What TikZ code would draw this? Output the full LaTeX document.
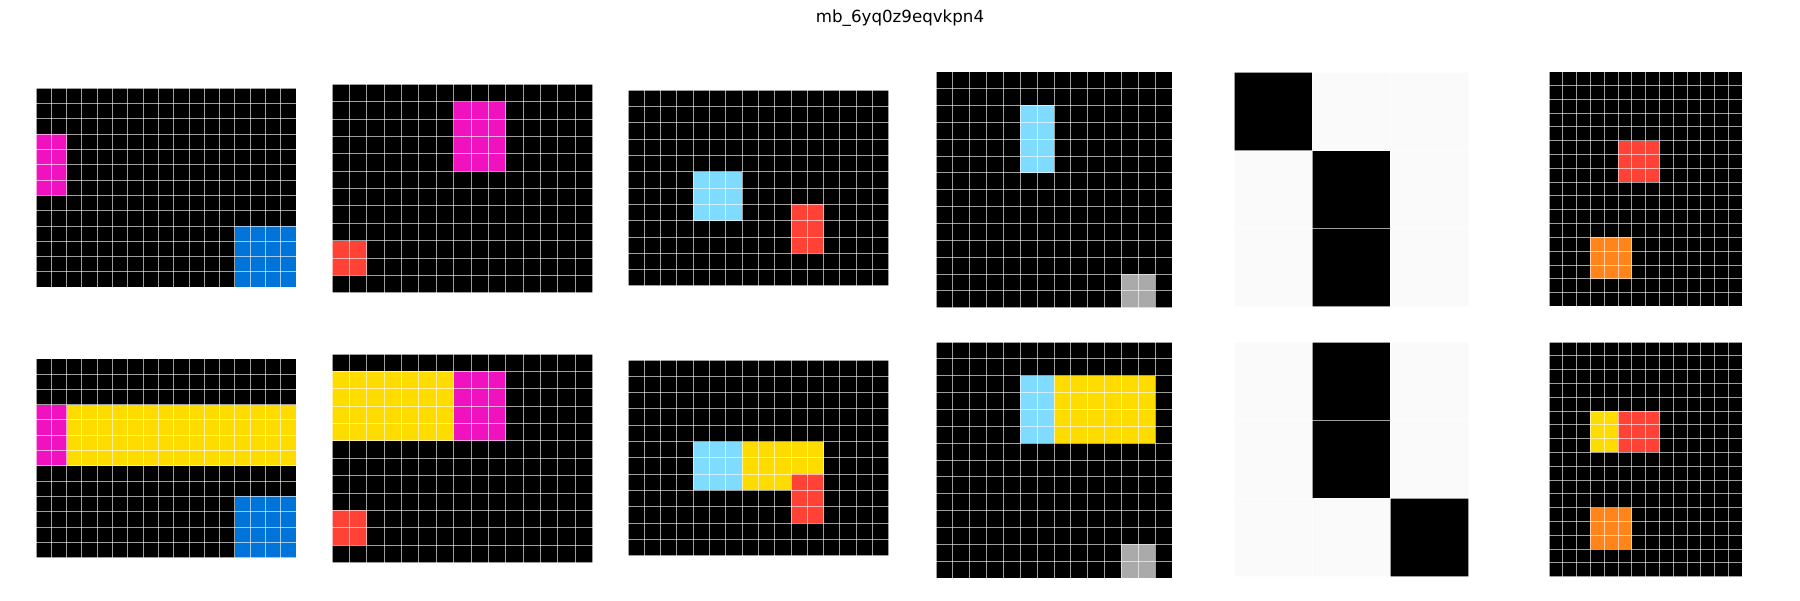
\documentclass[tikz,border=0pt]{standalone}
\usepackage{fontspec}
\setmainfont{DejaVu Sans}
\definecolor{arcK}{HTML}{000000}
\definecolor{arcB}{HTML}{0074D9}
\definecolor{arcR}{HTML}{FF4136}
\definecolor{arcY}{HTML}{FFDC00}
\definecolor{arcG}{HTML}{AAAAAA}
\definecolor{arcM}{HTML}{F012BE}
\definecolor{arcO}{HTML}{FF851B}
\definecolor{arcC}{HTML}{7FDBFF}
\definecolor{arcW}{HTML}{FAFAFA}
\tikzset{gridline/.style={draw=white,draw opacity=0.62,line width=0.72pt}}
% #1 x0, #2 y0, #3 cell, #4 cols, #5 rows, #6 background, #7 blocks col/row/w/h/colour
\newcommand{\arcgrid}[7]{%
  \begin{scope}[shift={(#1,#2)},scale=#3]
    \fill[#6] (0,0) rectangle (#4,#5);
    \foreach \cc/\rr/\ww/\hh/\kk in {#7} \fill[\kk] (\cc,\rr) rectangle ++(\ww,\hh);
    \foreach \i in {0,...,#4} \draw[gridline] (\i,0) -- (\i,#5);
    \foreach \j in {0,...,#5} \draw[gridline] (0,\j) -- (#4,\j);
  \end{scope}}
\begin{document}
\begin{tikzpicture}[x=0.72pt,y=-0.72pt]
\fill[white] (0,0) rectangle (1800,600);
\useasboundingbox (0,0) rectangle (1800,600);
\node[font=\fontsize{12}{14}\selectfont] (title) at (900,18) {mb\_6yq0z9eqvkpn4};
% column 1
\arcgrid{36}{88.3}{15.3}{17}{13}{arcK}{0/3/2/4/arcM, 13/9/4/4/arcB}
\arcgrid{36}{358.7}{15.3}{17}{13}{arcK}{0/3/2/4/arcM, 2/3/15/4/arcY, 13/9/4/4/arcB}
% column 2
\arcgrid{332}{84.3}{17.38}{15}{12}{arcK}{7/1/3/4/arcM, 0/9/2/2/arcR}
\arcgrid{332}{354}{17.38}{15}{12}{arcK}{0/1/7/4/arcY, 7/1/3/4/arcM, 0/9/2/2/arcR}
% column 3
\arcgrid{628}{90.3}{16.3}{16}{12}{arcK}{4/5/3/3/arcC, 10/7/2/3/arcR}
\arcgrid{628}{360}{16.3}{16}{12}{arcK}{4/5/3/3/arcC, 7/5/5/2/arcY, 7/7/3/1/arcY, 10/7/2/3/arcR}
% column 4
\arcgrid{936}{71.7}{16.86}{14}{14}{arcK}{5/2/2/4/arcC, 11/12/2/2/arcG}
\arcgrid{936}{342}{16.86}{14}{14}{arcK}{5/2/2/4/arcC, 7/2/6/4/arcY, 11/12/2/2/arcG}
% column 5
\arcgrid{1234}{72.3}{78.2}{3}{3}{arcW}{0/0/1/1/arcK, 1/1/1/1/arcK, 1/2/1/1/arcK}
\arcgrid{1234}{342}{78.2}{3}{3}{arcW}{1/0/1/1/arcK, 1/1/1/1/arcK, 2/2/1/1/arcK}
% column 6
\arcgrid{1549}{71.7}{13.81}{14}{17}{arcK}{5/5/3/3/arcR, 3/12/3/3/arcO}
\arcgrid{1549}{342}{13.81}{14}{17}{arcK}{3/5/2/3/arcY, 5/5/3/3/arcR, 3/12/3/3/arcO}
\end{tikzpicture}
\end{document}
